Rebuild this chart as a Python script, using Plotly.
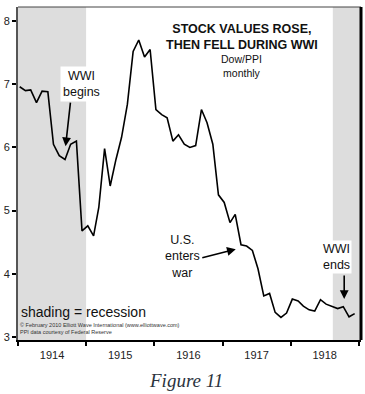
import plotly.graph_objects as go

# ---- data ----
years = [1914, 1915, 1916, 1917, 1918]
months = [f"{y}-{m:02d}" for y in years for m in range(1, 13)]
dow_ppi = [6.96, 6.90, 6.91, 6.71, 6.89, 6.88, 6.05, 5.87, 5.81, 6.05, 6.10, 4.68,
           4.76, 4.60, 5.05, 5.98, 5.39, 5.81, 6.16, 6.68, 7.52, 7.70, 7.43, 7.55,
           6.60, 6.52, 6.47, 6.10, 6.20, 6.05, 6.00, 6.03, 6.60, 6.39, 6.05, 5.25,
           5.13, 4.81, 4.94, 4.46, 4.44, 4.37, 4.08, 3.65, 3.69, 3.39, 3.31, 3.38,
           3.60, 3.57, 3.49, 3.43, 3.41, 3.59, 3.52, 3.48, 3.45, 3.48, 3.32, 3.37]
recessions = [("1913-01-01", "1915-01-01"), ("1918-08-15", "1919-06-01")]
y_ticks = [3, 4, 5, 6, 7, 8]

x_dates = [m + "-10" for m in months]
x_range = ["1914-01-01", "1919-01-13"]
y_range = [2.953, 8.222]

FONT = "Liberation Sans, Arial, sans-serif"

fig = go.Figure()
fig.add_trace(go.Scatter(x=x_dates, y=dow_ppi, mode="lines",
                         line=dict(color="black", width=1.6), hoverinfo="skip",
                         showlegend=False))

for x0, x1 in recessions:
    fig.add_shape(type="rect", xref="x", yref="paper", x0=x0, x1=x1, y0=0, y1=1,
                  fillcolor="#dddddd", line=dict(width=0), layer="below")

# frame: thin top, thick right
fig.add_shape(type="line", xref="paper", yref="paper", x0=0, x1=1, y0=1, y1=1,
              line=dict(color="#444444", width=1))
fig.add_shape(type="line", xref="paper", yref="paper", x0=1, x1=1, y0=0, y1=1,
              line=dict(color="black", width=3))

arrow = dict(showarrow=True, arrowhead=2, arrowsize=1.1, arrowwidth=1.6,
             arrowcolor="black", text="", axref="pixel", ayref="pixel")
# arrows
fig.add_annotation(x="1914-09-13", y=6.02, ax=5, ay=-45, **arrow)
fig.add_annotation(x="1917-03-13", y=4.39, ax=-35, ay=9, **arrow)
fig.add_annotation(x="1918-10-15", y=3.60, ax=0, ay=-25, **arrow)

lab_font = dict(family=FONT, size=12.5, color="#111111")
fig.add_annotation(x="1914-12-06", y=7.01, text="WWI<br>begins", showarrow=False,
                   font=lab_font, bgcolor="white", borderpad=2)
fig.add_annotation(x="1916-06-03", y=4.27, text="U.S.<br>enters<br>war", showarrow=False,
                   font=lab_font)
fig.add_annotation(x="1918-09-05", y=4.26, text="WWI<br>ends", showarrow=False,
                   font=lab_font, bgcolor="white", borderpad=1)

mid = dict(showarrow=False, xref="paper", yref="paper", yanchor="middle")
fig.add_annotation(x=0.653, y=0.911, xanchor="center",
                   text="<b>STOCK VALUES ROSE,<br>THEN FELL DURING WWI</b>",
                   font=dict(family=FONT, size=12.5, color="#111111"), **mid)
fig.add_annotation(x=0.653, y=0.823, xanchor="center",
                   text="Dow/PPI<br>monthly",
                   font=dict(family=FONT, size=10.5, color="#111111"), **mid)
fig.add_annotation(x=0.002, y=0.085, xanchor="left",
                   text="shading = recession",
                   font=dict(family=FONT, size=14, color="#111111"), **mid)
fig.add_annotation(x=0.0, y=0.035, xanchor="left", align="left",
                   text="© February 2010 Elliott Wave International (www.elliottwave.com)<br>PPI data courtesy of Federal Reserve",
                   font=dict(family=FONT, size=5.5, color="#333333"), **mid)
fig.add_annotation(x=0.491, y=-0.121, xanchor="center",
                   text="<i>Figure 11</i>",
                   font=dict(family="Liberation Serif, Times New Roman, serif", size=19,
                             color="#2b3440"), **mid)

tick_font = dict(family=FONT, size=11, color="#222222")
fig.update_layout(
    width=365, height=394,
    margin=dict(l=15, r=4, t=7, b=54),
    paper_bgcolor="white", plot_bgcolor="white",
    xaxis=dict(type="date", range=x_range, tick0="1914-01-01", dtick="M12",
               tickformat="%Y", ticklabelmode="period", ticks="outside", ticklen=4,
               tickwidth=1.5, tickcolor="black", showline=True, linecolor="black",
               linewidth=1.5, showgrid=False, zeroline=False, tickfont=tick_font,
               fixedrange=True),
    xaxis2=dict(type="date", range=x_range, tick0="1914-01-01", dtick="M12",
                overlaying="x", anchor="y", side="bottom", ticks="inside", ticklen=3,
                tickwidth=1.5, tickcolor="black", showticklabels=False,
                showline=False, showgrid=False, zeroline=False),
    yaxis=dict(range=y_range, tickvals=y_ticks, ticks="outside", ticklen=4,
               tickwidth=1.5, tickcolor="black", showline=True, linecolor="#555555",
               linewidth=2, showgrid=False, zeroline=False, tickfont=tick_font,
               fixedrange=True),
    yaxis2=dict(range=y_range, tickvals=y_ticks, overlaying="y", anchor="x",
                side="left", ticks="inside", ticklen=3, tickwidth=1.5,
                tickcolor="black", showticklabels=False, showline=False,
                showgrid=False, zeroline=False),
)

fig.write_html("out.html", config={"displayModeBar": False},
               post_script="document.body.style.margin='0';document.body.style.overflow='hidden';")
